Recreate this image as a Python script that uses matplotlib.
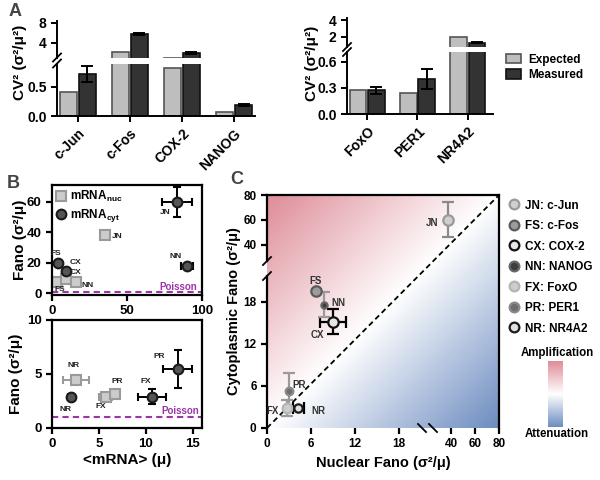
import numpy as np
import matplotlib
matplotlib.use("Agg")
import matplotlib.pyplot as plt
from matplotlib.patches import Patch
from matplotlib.lines import Line2D

plt.rcParams['font.family'] = ['Liberation Sans', 'DejaVu Sans']
plt.rcParams['font.weight'] = 'bold'
plt.rcParams['axes.labelweight'] = 'bold'
plt.rcParams['mathtext.fontset'] = 'custom'
plt.rcParams['mathtext.rm'] = 'Liberation Sans:bold'
plt.rcParams['mathtext.it'] = 'Liberation Sans:bold'
plt.rcParams['mathtext.bf'] = 'Liberation Sans:bold'

# ---------------- data ----------------
# A: expected vs measured CV^2
genes_a1 = ['c-Jun', 'c-Fos', 'COX-2', 'NANOG']
exp_a1 = [0.42, 2.2, 0.83, 0.07]
meas_a1 = [0.72, 5.8, 1.9, 0.19]
meas_err_a1 = [0.13, 0.15, 0.15, 0.02]

genes_a2 = ['FoxO', 'PER1', 'NR4A2']
exp_a2 = [0.27, 0.24, 2.0]
meas_a2 = [0.27, 0.40, 1.35]
meas_err_a2 = [0.04, 0.11, 0.1]

# B (top): high expressers
tags_bt = ['FS', 'CX', 'NN', 'JN']
nuc_mean_bt = [3.3, 9.3, 16.3, 35]
nuc_fano_bt = [7.2, 9.8, 7.2, 38]
cyt_mean_bt = [3.8, 9.3, 90, 83]
cyt_mean_err_bt = [0, 0, 4, 10]
cyt_fano_bt = [19.7, 15, 17.7, 60]
cyt_fano_err_bt = [0, 0, 0, 10]

# B (bottom): low expressers
tags_bb = ['NR', 'FX', 'PR']
nuc_mean_bb = [2.55, 5.75, 6.7]
nuc_mean_err_bb = [1.4, 0.7, 0.2]
nuc_fano_bb = [4.4, 2.85, 3.15]
nuc_fano_err_bb = [0.3, 0.1, 0.2]
cyt_mean_bb = [2.0, 10.65, 13.4]
cyt_mean_err_bb = [0.3, 1.5, 1.55]
cyt_fano_bb = [2.9, 2.9, 5.5]
cyt_fano_err_bb = [0.1, 0.7, 1.75]

poisson = 1.0

# C: nuclear vs cytoplasmic Fano
tags_c = ['JN', 'FS', 'CX', 'NN', 'FX', 'PR', 'NR']
names_c = ['c-Jun', 'c-Fos', 'COX-2', 'NANOG', 'FoxO', 'PER1', 'NR4A2']
nuc_fano_c = [37.6, 6.7, 9.0, 7.8, 2.7, 3.0, 4.3]
nuc_err_c = [0, 0, 1.8, 0, 0, 0, 0.7]
cyt_fano_c = [60, 19.6, 15.2, 17.6, 2.85, 5.3, 2.85]
cyt_err_c = [14, 0, 1.8, 1.8, 1.1, 2.6, 0]

# styles for panel C
face_c = ['#cfcfcf', '#9c9c9c', '#e6e6e6', '#3d3d3d', '#cdcdcd', '#6e6e6e', '#e0e0e0']
edge_c = ['#9a9a9a', '#5a5a5a', '#111111', '#666666', '#b5b5b5', '#8a8a8a', '#1a1a1a']
size_c = [7.5, 7.5, 7.5, 4.5, 7, 5.5, 6]
ecol_c = ['#8a8a8a', '#8a8a8a', 'black', '#9a9a9a', '#9a9a9a', '#9a9a9a', 'black']
tag_off_c = [(-12, -2), (0, 7), (-11, -10), (10, 1), (-10, -2), (7, 4), (14, -2)]

W, H = 600, 480
fig = plt.figure(figsize=(6, 4.8), dpi=100)


def px_axes(x0, y0, x1, y1):
    return fig.add_axes([x0 / W, 1 - y1 / H, (x1 - x0) / W, (y1 - y0) / H])


def slash(x, y, d=4, back=False):
    # small break mark drawn in figure pixel coords
    sy = -1 if back else 1
    fig.add_artist(Line2D([(x - d) / W, (x + d) / W],
                          [1 - (y + sy * d) / H, 1 - (y - sy * d) / H],
                          color='black', lw=1.3))


def style_ax(ax, lw=1.4):
    for s in ax.spines.values():
        s.set_linewidth(lw)
    ax.tick_params(width=lw, length=4, direction='out')


# ---------------- panel A ----------------
def broken_bars(xl, xr, hi_px, lo_px, genes, exp, meas, err,
                hi_lim, lo_lim, hi_ticks, lo_ticks, xlim):
    ax_hi = px_axes(xl, hi_px[0], xr, hi_px[1])
    ax_lo = px_axes(xl, lo_px[0], xr, lo_px[1])
    x = np.arange(len(genes))
    meas = np.asarray(meas)
    err = np.asarray(err)
    for ax in (ax_hi, ax_lo):
        ax.bar(x - 0.18, exp, 0.33, color='#bebebe', edgecolor='#555555', linewidth=1.2)
        ax.bar(x + 0.18, meas, 0.33, color='#333333', edgecolor='#111111', linewidth=1.2)
        ax.set_xlim(*xlim)
        ax.spines['top'].set_visible(False)
        ax.spines['right'].set_visible(False)
        style_ax(ax)
        ax.tick_params(labelsize=10)
    # error bars only on the segment where each bar ends
    hi = meas > lo_lim[1]
    ax_hi.errorbar(x[hi] + 0.18, meas[hi], yerr=err[hi], fmt='none', ecolor='black',
                   elinewidth=1.4, capsize=4, capthick=1.4)
    ax_lo.errorbar(x[~hi] + 0.18, meas[~hi], yerr=err[~hi], fmt='none', ecolor='black',
                   elinewidth=1.4, capsize=4, capthick=1.4)
    ax_hi.set_ylim(*hi_lim)
    ax_hi.set_yticks(hi_ticks)
    ax_hi.spines['bottom'].set_visible(False)
    ax_hi.set_xticks([])
    ax_lo.set_ylim(*lo_lim)
    ax_lo.set_yticks(lo_ticks)
    ax_lo.set_xticks(x)
    ax_lo.set_xticklabels(genes, rotation=45, ha='right', va='top',
                          rotation_mode='anchor', fontsize=10)
    slash(xl, hi_px[1])
    slash(xl, lo_px[0])
    return ax_hi, ax_lo


broken_bars(57, 255, (21, 57.5), (63.5, 116), genes_a1, exp_a1, meas_a1, meas_err_a1,
            (1.0, 8.4), (0, 0.9), [4, 8], [0.0, 0.5], (-0.4, 3.4))
broken_bars(347, 493, (18, 47), (52, 114), genes_a2, exp_a2, meas_a2, meas_err_a2,
            (0.82, 4.24), (0, 0.71), [2, 4], [0.0, 0.3, 0.6], (-0.4, 2.5))

fig.text(20 / W, 1 - 62 / H, 'CV² (σ²/μ²)', rotation=90, fontsize=11,
         ha='center', va='center')
fig.text(312 / W, 1 - 63 / H, 'CV² (σ²/μ²)', rotation=90, fontsize=11,
         ha='center', va='center')

fig.legend(handles=[Patch(fc='#bebebe', ec='#555555', lw=1.2),
                    Patch(fc='#333333', ec='#111111', lw=1.2)],
           labels=['Expected', 'Measured'], loc='upper left',
           bbox_to_anchor=(495 / W, 1 - 43 / H), frameon=False, fontsize=8.5,
           handlelength=1.3, handleheight=0.9, labelspacing=0.3, handletextpad=0.6)

# ---------------- panel B ----------------
sq = dict(marker='s', ms=6.5, mfc='#cccccc', mec='#9a9a9a', mew=1.5, ls='none')
ci = dict(marker='o', ms=7, mfc='#555555', mec='#1a1a1a', mew=1.5, ls='none')
purple = '#9b35a8'
tag_kw = dict(fontsize=6, color='#222222', ha='center', va='center',
              textcoords='offset points')

ax_bt = px_axes(52, 185, 202, 295)
ax_bt.axhline(poisson, color=purple, ls='--', lw=1.5, dashes=(3, 2))
ax_bt.plot(nuc_mean_bt, nuc_fano_bt, clip_on=False, **sq)
ax_bt.errorbar(cyt_mean_bt, cyt_fano_bt, xerr=cyt_mean_err_bt, yerr=cyt_fano_err_bt,
               ecolor='black', elinewidth=1.4, capsize=3, capthick=1.4, clip_on=False, **ci)
ax_bt.set_xlim(0, 100)
ax_bt.set_ylim(-1, 71)
ax_bt.set_xticks([0, 50, 100])
ax_bt.set_yticks([0, 20, 40, 60])
style_ax(ax_bt, 1.6)
ax_bt.tick_params(labelsize=9.5)
ax_bt.set_ylabel('Fano (σ²/μ)', fontsize=11, labelpad=0)
for t, x, y, off in zip(tags_bt, nuc_mean_bt, nuc_fano_bt, [(2, -5), (7, 4), (8, -2), (9, -1)]):
    ax_bt.annotate(t, (x, y), xytext=off, **tag_kw)
for t, x, y, off in zip(tags_bt, cyt_mean_bt, cyt_fano_bt, [(-1, 7), (7, 6), (-8, 7), (-8, -8)]):
    ax_bt.annotate(t, (x, y), xytext=off, **tag_kw)
ax_bt.text(97, 4, 'Poisson', color=purple, fontsize=7, ha='right', va='center')
ax_bt.legend(handles=[Line2D([], [], **sq), Line2D([], [], **ci)],
             labels=[r'mRNA$_{nuc}$', r'mRNA$_{cyt}$'], loc='upper left',
             frameon=False, fontsize=8.5, handlelength=0.9, handletextpad=0.3,
             borderaxespad=0.15, labelspacing=0.25, borderpad=0.2)

ax_bb = px_axes(52, 320, 202, 428)
ax_bb.axhline(poisson, color=purple, ls='--', lw=1.5, dashes=(3, 2))
ax_bb.errorbar(nuc_mean_bb, nuc_fano_bb, xerr=nuc_mean_err_bb, yerr=nuc_fano_err_bb,
               ecolor='#9a9a9a', elinewidth=1.4, capsize=3, capthick=1.4, **sq)
ax_bb.errorbar(cyt_mean_bb, cyt_fano_bb, xerr=cyt_mean_err_bb, yerr=cyt_fano_err_bb,
               ecolor='black', elinewidth=1.4, capsize=3, capthick=1.4, **ci)
ax_bb.set_xlim(0, 16)
ax_bb.set_ylim(0, 10)
ax_bb.set_xticks([0, 5, 10, 15])
ax_bb.set_yticks([0, 5, 10])
style_ax(ax_bb, 1.6)
ax_bb.tick_params(labelsize=9.5)
ax_bb.set_ylabel('Fano (σ²/μ)', fontsize=11, labelpad=3)
ax_bb.set_xlabel('<mRNA> (μ)', fontsize=11, labelpad=2)
for t, x, y, off in zip(tags_bb, nuc_mean_bb, nuc_fano_bb, [(-2, 11), (-4, -7), (2, 9)]):
    ax_bb.annotate(t, (x, y), xytext=off, **tag_kw)
for t, x, y, off in zip(tags_bb, cyt_mean_bb, cyt_fano_bb, [(-4, -9), (-4, 11), (-13, 9)]):
    ax_bb.annotate(t, (x, y), xytext=off, **tag_kw)
ax_bb.text(15.7, 1.15, 'Poisson', color=purple, fontsize=7, ha='right', va='bottom')

# ---------------- panel C ----------------
XB, XP = [0, 21.2, 30.5, 80], [0, 155, 173, 232]
YB, YP = [0, 21.7, 31, 80], [0, 152, 172, 233]

cx0, cy0, cx1, cy1 = 267, 195, 499, 428
bg = px_axes(cx0, cy0, cx1, cy1)
n = 300
gx, gy = np.meshgrid(np.linspace(0, 1, n), np.linspace(0, 1, n))
v = (gy - gx)[..., None]
red = np.array([222, 140, 152]) / 255
blue = np.array([108, 140, 192]) / 255
img = np.where(v > 0, 1 + v * (red - 1), 1 + (-v) * (blue - 1))
bg.imshow(img, origin='lower', extent=[0, 1, 0, 1], aspect='auto', interpolation='bilinear')
bg.axis('off')

ax_c = px_axes(cx0, cy0, cx1, cy1)
ax_c.patch.set_alpha(0)
ax_c.set_xscale('function', functions=(lambda a: np.interp(a, XB, XP),
                                       lambda a: np.interp(a, XP, XB)))
ax_c.set_yscale('function', functions=(lambda a: np.interp(a, YB, YP),
                                       lambda a: np.interp(a, YP, YB)))
ax_c.plot([0, 1], [0, 1], transform=ax_c.transAxes, color='black', lw=1.3,
          ls='--', dashes=(3, 2))
for i in range(len(tags_c)):
    ax_c.errorbar(nuc_fano_c[i], cyt_fano_c[i],
                  xerr=nuc_err_c[i] if nuc_err_c[i] else None,
                  yerr=cyt_err_c[i] if cyt_err_c[i] else None,
                  marker='o', ms=size_c[i], mfc=face_c[i], mec=edge_c[i], mew=1.6,
                  ecolor=ecol_c[i], elinewidth=1.6, capsize=4, capthick=1.6, ls='none')
    ax_c.annotate(tags_c[i], (nuc_fano_c[i], cyt_fano_c[i]), xytext=tag_off_c[i],
                  fontsize=7, color='#333333', ha='center', va='center',
                  textcoords='offset points')
ax_c.set_xlim(0, 80)
ax_c.set_ylim(0, 80)
ticks_c = [0, 6, 12, 18, 40, 60, 80]
ax_c.set_xticks(ticks_c)
ax_c.set_yticks(ticks_c)
style_ax(ax_c, 1.6)
ax_c.tick_params(labelsize=8.5)
ax_c.spines['left'].set_visible(False)
ax_c.spines['bottom'].set_visible(False)
gy0, gy1 = YP[1] / YP[-1], 167 / YP[-1]
ax_c.plot([0, 0], [0, gy0], transform=ax_c.transAxes, color='black', lw=1.6, clip_on=False)
ax_c.plot([0, 0], [gy1, 1], transform=ax_c.transAxes, color='black', lw=1.6, clip_on=False)
slash(cx0, cy1 - YP[1])
slash(cx0, cy1 - 167)
slash(cx0 + XP[1], cy1, back=True)
slash(cx0 + 166, cy1, back=True)
ax_c.set_xlabel('Nuclear Fano (σ²/μ)', fontsize=10.5, labelpad=4)
ax_c.set_ylabel('Cytoplasmic Fano (σ²/μ)', fontsize=10.5, labelpad=2)

handles_c = [Line2D([], [], ls='none', marker='o', ms=7, mfc=face_c[i], mec=edge_c[i], mew=1.6)
             for i in range(len(tags_c))]
labels_c = [f'{t}: {nm}' for t, nm in zip(tags_c, names_c)]
fig.legend(handles=handles_c, labels=labels_c, loc='upper left',
           bbox_to_anchor=(497 / W, 1 - 189 / H), frameon=False, fontsize=8.5,
           handlelength=1.0, handletextpad=0.5, labelspacing=0.72)

cb = px_axes(548, 361, 563, 427)
grad = np.linspace(-1, 1, 200)[:, None, None]
cb.imshow(np.where(grad > 0, 1 + grad * (red - 1), 1 + (-grad) * (blue - 1)),
          origin='lower', aspect='auto', extent=[0, 1, 0, 1])
cb.axis('off')
fig.text(557 / W, 1 - 353 / H, 'Amplification', fontsize=8.3, ha='center', va='center')
fig.text(557 / W, 1 - 434 / H, 'Attenuation', fontsize=8.3, ha='center', va='center')

# panel letters
for lab, x, y in [('A', 15, 12), ('B', 13, 184), ('C', 237, 180)]:
    fig.text(x / W, 1 - y / H, lab, fontsize=13, color='#444444', ha='center', va='center')

fig.savefig('out.png', dpi=100)
